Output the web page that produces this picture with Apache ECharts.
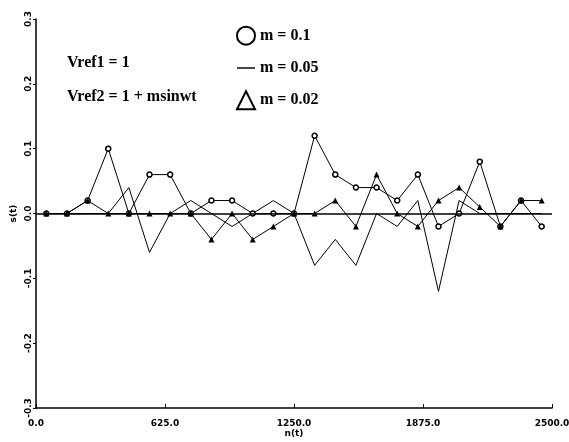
<!doctype html>
<html>
<head>
    <title>s(t) response</title>
    <script src="https://cdn.jsdelivr.net/npm/echarts@6/dist/echarts.min.js"></script>
</head>
<style>
    html, body { margin: 0; padding: 0; background: #fff; }
    #chart { width: 569px; height: 442px; }
</style>
<body>
<div id="chart"></div>
<script>
  // sample instants n(t)
  var nT = [50, 150, 250, 350, 450, 550, 650, 750, 850, 950, 1050, 1150, 1250,
            1350, 1450, 1550, 1650, 1750, 1850, 1950, 2050, 2150, 2250, 2350, 2450];
  // s(t) for each modulation index
  var sM01 = [0, 0, 0.02, 0.1, 0, 0.06, 0.06, 0, 0.02, 0.02, 0, 0, 0,
              0.12, 0.06, 0.04, 0.04, 0.02, 0.06, -0.02, 0, 0.08, -0.02, 0.02, -0.02];
  var sM005 = [0, 0, 0, 0, 0.04, -0.06, 0, 0.02, 0, -0.02, 0, 0.02, 0,
               -0.08, -0.04, -0.08, 0, -0.02, 0.02, -0.12, 0.02, 0, 0, 0, 0];
  var sM002 = [0, 0, 0.02, 0, 0, 0, 0, 0, -0.04, 0, -0.04, -0.02, 0,
               0, 0.02, -0.02, 0.06, 0, -0.02, 0.02, 0.04, 0.01, -0.02, 0.02, 0.02];
  var legendNames = ['m = 0.1', 'm = 0.05', 'm = 0.02'];
  var notes = ['Vref1 = 1', 'Vref2 = 1 + msinwt'];

  function pairs(ys) {
    return ys.map(function (y, i) { return [nT[i], y]; });
  }
  function fmt(v) {
    return Math.abs(v) < 1e-9 ? '0.0' : v.toFixed(1);
  }

  var myChart = echarts.init(document.getElementById('chart'));
  var axisFont = { color: '#000', fontSize: 9, fontWeight: 'bold', fontFamily: 'DejaVu Sans' };

  var option = {
    animation: false,
    backgroundColor: '#fff',
    grid: { left: 36, right: 17, top: 19, bottom: 34, outerBoundsMode: 'none', containLabel: false },
    legend: {
      orient: 'vertical',
      left: 231,
      top: 18,
      itemWidth: 18,
      itemHeight: 18,
      itemGap: 7,
      textStyle: { color: '#000', fontSize: 16, fontWeight: 'bold', fontFamily: 'Liberation Serif' },
      data: [
        { name: legendNames[0], icon: 'circle',
          itemStyle: { color: '#fff', borderColor: '#000', borderWidth: 2 } },
        { name: legendNames[1], icon: 'path://M0,0 L20,0 L20,1.6 L0,1.6 Z',
          itemStyle: { color: '#000', borderWidth: 0 } },
        { name: legendNames[2], icon: 'triangle',
          itemStyle: { color: '#fff', borderColor: '#000', borderWidth: 2 } }
      ]
    },
    graphic: [
      { type: 'text', left: 67, top: 50,
        style: { text: notes[0], fill: '#000', font: 'bold 16px "Liberation Serif"' } },
      { type: 'text', left: 67, top: 84,
        style: { text: notes[1], fill: '#000', font: 'bold 16px "Liberation Serif"' } }
    ],
    xAxis: {
      type: 'value',
      min: 0,
      max: 2500,
      interval: 625,
      name: 'n(t)',
      nameLocation: 'middle',
      nameGap: 16,
      nameMoveOverlap: false,
      nameTextStyle: axisFont,
      axisLine: { onZero: false, lineStyle: { color: '#000', width: 1.5 } },
      axisTick: { inside: true, length: 4, lineStyle: { color: '#000' } },
      axisLabel: { formatter: fmt, margin: 6, textStyle: axisFont },
      splitLine: { show: false }
    },
    yAxis: {
      type: 'value',
      min: -0.3,
      max: 0.3,
      interval: 0.1,
      name: 's(t)',
      nameLocation: 'middle',
      nameRotate: 90,
      nameGap: 13,
      nameMoveOverlap: false,
      nameTextStyle: axisFont,
      axisLine: { show: true, onZero: false, lineStyle: { color: '#000', width: 1.5 } },
      axisTick: { show: true, length: 3, lineStyle: { color: '#000' } },
      axisLabel: { formatter: fmt, rotate: 90, margin: -2, textStyle: axisFont },
      splitLine: { show: false }
    },
    series: [
      {
        name: legendNames[0],
        type: 'line',
        data: pairs(sM01),
        symbol: 'circle',
        symbolSize: 5,
        showAllSymbol: true,
        itemStyle: { color: '#fff', borderColor: '#000', borderWidth: 1.5 },
        lineStyle: { color: '#000', width: 1 },
        z: 3
      },
      {
        name: legendNames[1],
        type: 'line',
        data: pairs(sM005),
        showSymbol: false,
        symbol: 'none',
        itemStyle: { color: '#000' },
        lineStyle: { color: '#000', width: 1 },
        markLine: {
          silent: true,
          symbol: 'none',
          label: { show: false },
          lineStyle: { color: '#000', width: 1.5, type: 'solid' },
          data: [{ yAxis: 0 }]
        },
        z: 2
      },
      {
        name: legendNames[2],
        type: 'line',
        data: pairs(sM002),
        symbol: 'triangle',
        symbolSize: 6,
        showAllSymbol: true,
        itemStyle: { color: '#000' },
        lineStyle: { color: '#000', width: 1 },
        z: 4
      }
    ]
  };

  myChart.setOption(option);
</script>
</body>
</html>
